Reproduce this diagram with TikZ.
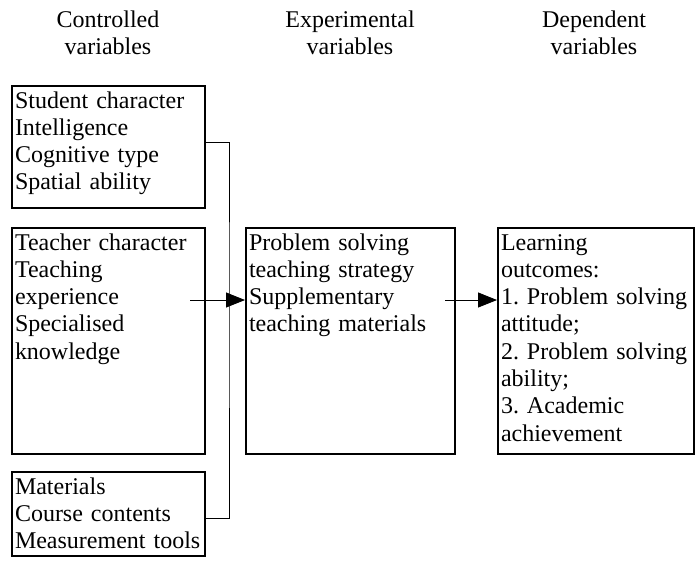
\documentclass[tikz,border=0pt]{standalone}
\usepackage{fontspec}
\setmainfont{Liberation Serif}
\usetikzlibrary{arrows.meta}
\newcommand{\boxfont}{\fontsize{24}{27.3}\selectfont\frenchspacing\hyphenpenalty=10000}

\begin{document}
\begin{tikzpicture}[x=1pt, y=-1pt,
    head/.style={align=center, font=\boxfont, inner sep=0pt},
    varbox/.style={draw, line width=2pt, anchor=north west, align=left, inner sep=3pt, text height=19pt, font=\boxfont},
    link/.style={line width=0.8pt},
    feed/.style={line width=0.8pt, -{Triangle[length=19pt,width=15pt]}}]
      \useasboundingbox (0,0) rectangle (699,565);

      % column headings
      \node[head] (hcon) at (108,33) {Controlled\\variables};
      \node[head] (hexp) at (350,33) {Experimental\\variables};
      \node[head] (hdep) at (594,33) {Dependent\\variables};

      % boxes
      \node[varbox, text width=187pt, text depth=97pt] (student) at (11,85) {Student character\\Intelligence\\Cognitive type\\Spatial ability};
      \node[varbox, text width=187pt, text depth=201pt] (teacher) at (11,227) {Teacher character\\Teaching\\experience\\Specialised\\knowledge};
      \node[varbox, text width=187pt, text depth=59pt] (material) at (11,471) {Materials\\Course contents\\Measurement tools};
      \node[varbox, text width=203pt, text depth=201pt] (strategy) at (245,227) {Problem solving\\teaching strategy\\Supplementary\\teaching materials};
      \node[varbox, text width=190pt, text depth=201pt] (outcome) at (497,227) {Learning\\outcomes:\\1. Problem solving\\attitude;\\2. Problem solving\\ability;\\3. Academic\\achievement};

      \coordinate (bus) at (229,300);
      \coordinate (in1) at (190,300);
      \coordinate (in2) at (445,300);

      \draw[link] ([yshift=5pt]student.east) -| (bus) |- ([yshift=-4pt]material.east);
      \draw[feed] (in1) -- (strategy.west |- in1);
      \draw[feed] (in2) -- (outcome.west |- in2);
    \end{tikzpicture}
\end{document}
